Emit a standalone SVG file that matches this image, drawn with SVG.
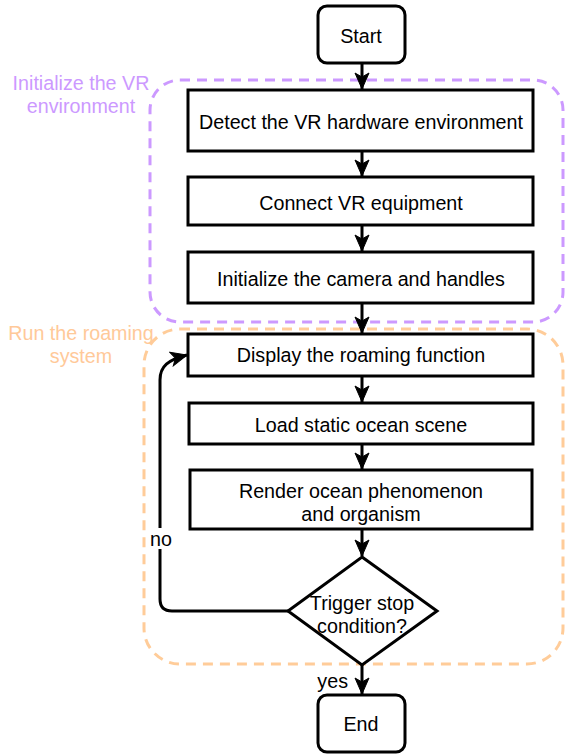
<svg xmlns="http://www.w3.org/2000/svg" width="566" height="754" viewBox="0 0 566 754">
<style>
text{font-family:"Liberation Sans",Arial,sans-serif;font-size:19.7px;fill:#000;text-anchor:middle}
.box{fill:#fff;stroke:#000;stroke-width:3}
.grp{fill:none;stroke-width:3;stroke-dasharray:10 7}
.pur{stroke:#CC99FF}
.org{stroke:#FFCC99}
.pt{fill:#CC99FF}
.ot{fill:#FFC999}
.edge{fill:none;stroke:#000;stroke-width:3;marker-end:url(#arr)}
</style>
<defs>
<marker id="arr" markerUnits="userSpaceOnUse" markerWidth="18" markerHeight="16" refX="17" refY="8" orient="auto">
<path d="M1,1 L17,8 L1,15 L5,8 Z" fill="#000" stroke="#000" stroke-width="1"/>
</marker>
</defs>
<g id="group-init">
<rect class="grp pur" x="150" y="80" width="413" height="242" rx="30"/>
<text class="pt" x="81" y="90">Initialize the VR</text>
<text class="pt" x="81" y="113">environment</text>
</g>
<g id="group-run">
<rect class="grp org" x="144" y="329" width="419" height="335" rx="36"/>
<text class="ot" x="81" y="340">Run the roaming</text>
<text class="ot" x="81" y="363">system</text>
</g>
<g id="start">
<rect class="box" x="318" y="6" width="87" height="57" rx="9"/>
<text x="361" y="43">Start</text>
</g>
<g id="detect">
<rect class="box" x="188" y="90" width="345" height="61"/>
<text x="361" y="129">Detect the VR hardware environment</text>
</g>
<g id="connect">
<rect class="box" x="188" y="177" width="345" height="48"/>
<text x="361" y="210">Connect VR equipment</text>
</g>
<g id="initialize">
<rect class="box" x="188" y="252" width="345" height="51"/>
<text x="361" y="286">Initialize the camera and handles</text>
</g>
<g id="display">
<rect class="box" x="188" y="334" width="345" height="42"/>
<text x="361" y="362">Display the roaming function</text>
</g>
<g id="load">
<rect class="box" x="189" y="403" width="344" height="41"/>
<text x="361" y="432">Load static ocean scene</text>
</g>
<g id="render">
<rect class="box" x="190" y="470" width="342" height="59"/>
<text x="361" y="498">Render ocean phenomenon</text>
<text x="361" y="521">and organism</text>
</g>
<g id="decision">
<polygon class="box" points="362,557 437,611 362,665 288,611"/>
<text x="362" y="610">Trigger stop</text>
<text x="362" y="633">condition?</text>
</g>
<g id="end">
<rect class="box" x="318" y="695" width="87" height="57" rx="9"/>
<text x="361" y="731">End</text>
</g>
<g id="connectors">
<path class="edge" d="M362,63 L362,89"/>
<path class="edge" d="M362,151 L362,176"/>
<path class="edge" d="M362,225 L362,251"/>
<path class="edge" d="M362,303 L362,333"/>
<path class="edge" d="M362,376 L362,402"/>
<path class="edge" d="M362,444 L362,469"/>
<path class="edge" d="M362,529 L362,556"/>
<path class="edge" d="M362,665 L362,694"/>
<path class="edge" d="M288,611 L172,611 Q160,611 160,599 L160,380 C160,366 168,360 187,355"/>
<rect x="148" y="528" width="26" height="21" fill="#fff"/>
<text x="161" y="546">no</text>
<text x="348" y="688" style="text-anchor:end">yes</text>
</g>
</svg>
